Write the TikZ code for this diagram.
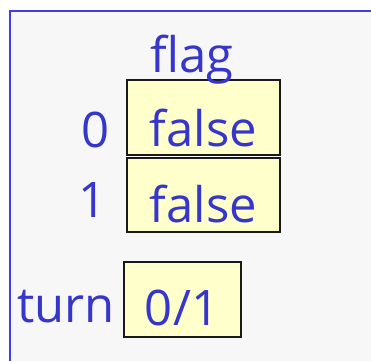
\documentclass[tikz,border=0pt]{standalone}
\usepackage{fontspec}
\setmainfont{Open Sans}
\definecolor{bggray}{HTML}{F7F7F7}
\definecolor{txtblue}{HTML}{3636CC}
\definecolor{lineblue}{HTML}{4040DD}
\definecolor{cellyellow}{HTML}{FFFFCC}
\begin{document}
\begin{tikzpicture}[x=1pt,y=-1pt,
  cell/.style={draw=black!90, line width=2.2pt, fill=cellyellow, inner sep=0pt, anchor=center},
  lbl/.style={text=txtblue, font=\fontsize{49}{58}\selectfont, inner sep=0pt, anchor=base}]
\useasboundingbox (0,0) rectangle (371,361);
\fill[white] (0,0) rectangle (371,361);
\fill[bggray] (10,11) rectangle (371,361);
\draw[lineblue, line width=2.4pt] (10,361) -- (10,11) -- (371,11);
% cells
\node[cell, minimum width=153pt, minimum height=75pt] (c0) at (203.5,117.5) {};
\node[cell, minimum width=153pt, minimum height=74pt] (c1) at (203.5,195) {};
\node[cell, minimum width=117pt, minimum height=75pt] (ct) at (182.5,299.5) {};
% labels
\node[lbl] (flag) at (192,72) {flag};
\node[lbl] (i0) at (96,147) {0};
\node[lbl] (v0) at (203.5,146) {false};
\node[lbl] (i1) at (93,217) {1};
\node[lbl] (v1) at (203.5,222) {false};
\node[lbl] (turn) at (66,322) {turn};
\node[lbl] (vt) at (182,325) {0/1};
\end{tikzpicture}
\end{document}
